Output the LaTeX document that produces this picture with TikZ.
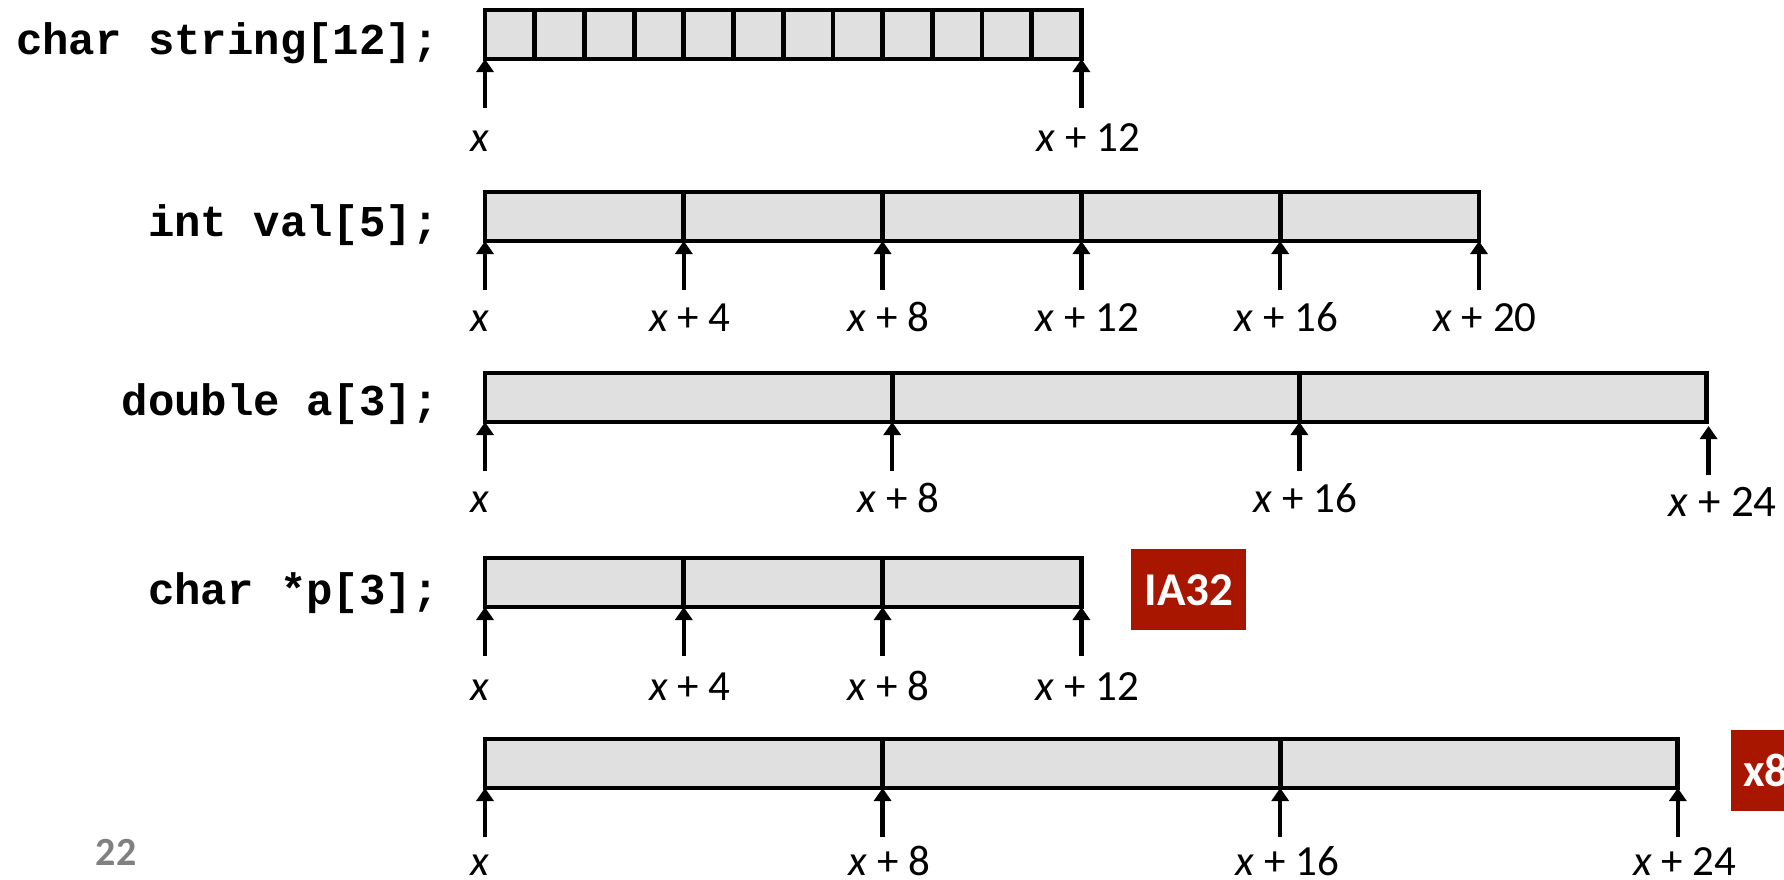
\documentclass[tikz,border=0pt]{standalone}
\usepackage{fontspec}
\setmainfont{Carlito}
\setmonofont{Liberation Mono}
\usetikzlibrary{arrows.meta,positioning}

\definecolor{cellfill}{RGB}{224,224,224}
\definecolor{tagred}{RGB}{168,22,0}
\definecolor{pagegray}{RGB}{128,128,128}

\tikzset{
  cell/.style={draw, fill=cellfill, line width=2.4pt, anchor=north west,
    minimum height=24.5pt, inner sep=0pt, outer sep=0pt},
  ptr/.style={-{Triangle[width=8.5pt,length=6.5pt]}, line width=2.2pt},
  addr/.style={font=\fontsize{21.5}{25}\selectfont, anchor=base, inner sep=0pt},
  decl/.style={font=\fontsize{22}{26}\selectfont\ttfamily\bfseries, anchor=base east, inner sep=0pt},
  tag/.style={fill=tagred, text=white, font=\fontsize{23.5}{28}\selectfont\bfseries,
    minimum height=40.5pt, inner xsep=6pt, anchor=north west},
}

% arrow up to a cell corner, with its address below
\newcommand{\addrtick}[4]{%
  \coordinate[below=24.5pt of #1] (#2);
  \draw[ptr] (#2) -- (#1);
  \node[addr] (#2l) at ([xshift=#4,yshift=-20.5pt]#2) {#3};}
\newcommand{\xoff}[1]{\textit{x} + #1}

\begin{document}
\begin{tikzpicture}[x=0.5pt, y=-0.5pt]
\useasboundingbox (0,0) rectangle (1784,879);

% char string[12];
\node[decl] (d1) at (439,54) {char string[12];};
\foreach \i in {0,...,11}
  \node[cell, minimum width=24.85pt] (s\i) at ({485+49.7*\i},10) {};
\begin{scope}[addr/.append style={yshift=-1pt}]
\addrtick{s0.south west}{s0a}{\textit{x}}{-2.5pt}
\addrtick{s11.south east}{s12a}{\xoff{12}}{3.5pt}
\end{scope}

% int val[5];
\node[decl] (d2) at (439,236) {int val[5];};
\foreach \i in {0,...,4}
  \node[cell, minimum width=99.4pt] (v\i) at ({485+198.8*\i},192) {};
\addrtick{v0.south west}{v0a}{\textit{x}}{-2.5pt}
\foreach \i/\o in {0/4,1/8,2/12,3/16,4/20}{
  \addrtick{v\i.south east}{v\o a}{\xoff{\o}}{3pt}
}

% double a[3];
\node[decl] (d3) at (439,415) {double a[3];};
\foreach \i in {0,1,2}
  \node[cell, minimum width=203.6pt] (a\i) at ({485+407.2*\i},373) {};
\coordinate (a2e) at ([shift={(1pt,-2pt)}]a2.south east);
\addrtick{a0.south west}{a0a}{\textit{x}}{-2.5pt}
\addrtick{a0.south east}{a8a}{\xoff{8}}{3pt}
\addrtick{a1.south east}{a16a}{\xoff{16}}{3pt}
\begin{scope}[addr/.append style={font=\fontsize{22.5}{26}\selectfont}]
\addrtick{a2e}{a24a}{\xoff{24}}{7pt}
\end{scope}

% char *p[3];  (IA32)
\node[decl] (d4) at (439,604) {char *p[3];};
\foreach \i in {0,1,2}
  \node[cell, minimum width=99.4pt] (p\i) at ({485+198.8*\i},558) {};
\begin{scope}[addr/.append style={yshift=-1.5pt}]
\addrtick{p0.south west}{p0a}{\textit{x}}{-2.5pt}
\foreach \i/\o in {0/4,1/8,2/12}{
  \addrtick{p\i.south east}{p\o a}{\xoff{\o}}{3pt}
}
\end{scope}
\node[tag, minimum width=57.5pt] (ia32) at (1131,549) {IA32};

% char *p[3];  (x86-64)
\foreach \i in {0,1,2}
  \node[cell, minimum width=198.8pt] (q\i) at ({485+397.6*\i},739) {};
\begin{scope}[addr/.append style={yshift=1.5pt}]
\addrtick{q0.south west}{q0a}{\textit{x}}{-2.5pt}
\foreach \i/\o in {0/8,1/16,2/24}{
  \addrtick{q\i.south east}{q\o a}{\xoff{\o}}{3.5pt}
}
\end{scope}
\node[tag] (x8664) at (1731,730) {x86-64};

% page number
\node[font=\fontsize{20}{24}\selectfont\bfseries, text=pagegray] (pg) at (116,852) {22};
\end{tikzpicture}
\end{document}
